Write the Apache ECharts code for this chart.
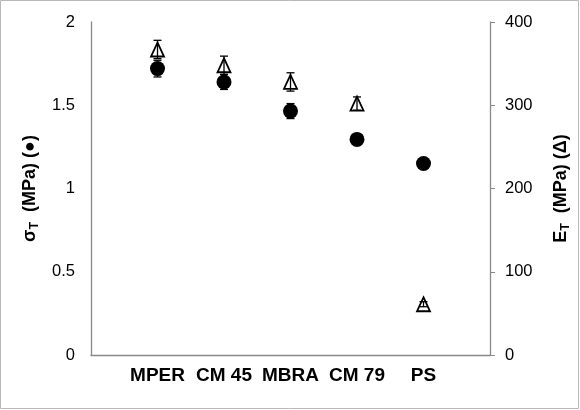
<!DOCTYPE html>
<html>
<head>
<meta charset="utf-8">
<script src="https://cdn.jsdelivr.net/npm/echarts@6/dist/echarts.min.js"></script>
<style>
  html, body { margin: 0; padding: 0; background: #fff; }
  #chart { width: 580px; height: 410px; }
</style>
</head>
<body>
<div id="chart"></div>
<script>
// Materials, placed at x = 1..5 on a 0..6 axis
const categories = ['MPER', 'CM 45', 'MBRA', 'CM 79', 'PS'];

// Tensile strength σT (MPa), left axis, filled circles
const sigmaT = [1.72, 1.64, 1.465, 1.295, 1.15];
const sigmaErr = [0.05, 0.045, 0.045, 0.03, 0.02];

// Tensile modulus ET (MPa), right axis, open triangles
const modulusE = [367, 348, 328, 302, 61];
const modulusErr = [11, 11, 11, 8, 3];

// Axis ticks
const leftTicks = { min: 0, max: 2, interval: 0.5 };
const rightTicks = { min: 0, max: 400, interval: 100 };

const pos = categories.map((_, i) => i + 1);
const sigmaPts = pos.map((x, i) => [x, sigmaT[i]]);
const modulusPts = pos.map((x, i) => [x, modulusE[i]]);
const sigmaBars = pos.map((x, i) => [x, sigmaT[i] - sigmaErr[i], sigmaT[i] + sigmaErr[i]]);
const modulusBars = pos.map((x, i) => [x, modulusE[i] - modulusErr[i], modulusE[i] + modulusErr[i]]);

const axisGray = '#898989';
const font = 'Liberation Sans, Arial, sans-serif';

function errorBar(params, api) {
  const x = api.value(0);
  const lo = api.coord([x, api.value(1)]);
  const hi = api.coord([x, api.value(2)]);
  const cap = 4;
  const style = { stroke: '#000', lineWidth: 1.3 };
  return {
    type: 'group',
    children: [
      { type: 'line', shape: { x1: lo[0], y1: lo[1], x2: hi[0], y2: hi[1] }, style },
      { type: 'line', shape: { x1: lo[0] - cap, y1: lo[1], x2: lo[0] + cap, y2: lo[1] }, style },
      { type: 'line', shape: { x1: hi[0] - cap, y1: hi[1], x2: hi[0] + cap, y2: hi[1] }, style }
    ]
  };
}

const titleMain = { fontSize: 18, fontWeight: 'bold', color: '#000', fontFamily: font, lineHeight: 22 };
const titleSub = { fontSize: 12.5, fontWeight: 'bold', color: '#000', fontFamily: font, verticalAlign: 'bottom', lineHeight: 14 };

const chart = echarts.init(document.getElementById('chart'), null, { renderer: 'canvas' });

chart.setOption({
  animation: false,
  backgroundColor: '#fff',
  textStyle: { fontFamily: font },
  graphic: [{
    type: 'rect',
    shape: { x: 0.5, y: 0.5, width: 578, height: 408 },
    style: { fill: 'none', stroke: '#b8b8b8', lineWidth: 1 },
    silent: true
  }],
  grid: { left: 91, right: 90, top: 22, bottom: 55, containLabel: false },
  xAxis: {
    type: 'value',
    min: 0, max: 6, interval: 1,
    axisLine: { show: true, lineStyle: { color: axisGray, width: 1.3 } },
    axisTick: { show: false },
    splitLine: { show: false },
    axisLabel: {
      margin: 11,
      fontSize: 19, fontWeight: 'bold', color: '#000', fontFamily: font,
      formatter: v => categories[v - 1] || ''
    }
  },
  yAxis: [
    {
      type: 'value',
      min: leftTicks.min, max: leftTicks.max, interval: leftTicks.interval,
      position: 'left',
      axisLine: { show: true, lineStyle: { color: axisGray, width: 1.3 } },
      axisTick: { show: false },
      splitLine: { show: false },
      axisLabel: { margin: 16, fontSize: 16.5, color: '#000', fontFamily: font },
      name: '{m|σ}{s|T}{m|  (MPa) (●)}',
      nameLocation: 'middle',
      nameGap: 50,
      nameRotate: 90,
      nameTextStyle: { rich: { m: titleMain, s: titleSub } }
    },
    {
      type: 'value',
      min: rightTicks.min, max: rightTicks.max, interval: rightTicks.interval,
      position: 'right',
      axisLine: { show: true, lineStyle: { color: axisGray, width: 1.3 } },
      axisTick: { show: true, length: 5, lineStyle: { color: axisGray } },
      splitLine: { show: false },
      axisLabel: { margin: 15, fontSize: 16.5, color: '#000', fontFamily: font },
      name: '{m|E}{s|T}{m|  (MPa) (Δ)}',
      nameLocation: 'middle',
      nameGap: 60,
      nameRotate: 90,
      nameTextStyle: { rich: { m: titleMain, s: titleSub } }
    }
  ],
  series: [
    {
      type: 'custom',
      yAxisIndex: 0,
      renderItem: errorBar,
      data: sigmaBars,
      z: 1,
      silent: true
    },
    {
      type: 'custom',
      yAxisIndex: 1,
      renderItem: errorBar,
      data: modulusBars,
      z: 1,
      silent: true
    },
    {
      name: 'σT',
      type: 'scatter',
      yAxisIndex: 0,
      data: sigmaPts,
      symbol: 'circle',
      symbolSize: 15,
      itemStyle: { color: '#000', opacity: 1 },
      z: 3
    },
    {
      name: 'ET',
      type: 'scatter',
      yAxisIndex: 1,
      data: modulusPts,
      symbol: 'triangle',
      symbolSize: [13, 14],
      itemStyle: { color: 'rgba(0,0,0,0)', borderColor: '#000', borderWidth: 1.8, opacity: 1 },
      z: 3
    }
  ]
});
</script>
</body>
</html>
